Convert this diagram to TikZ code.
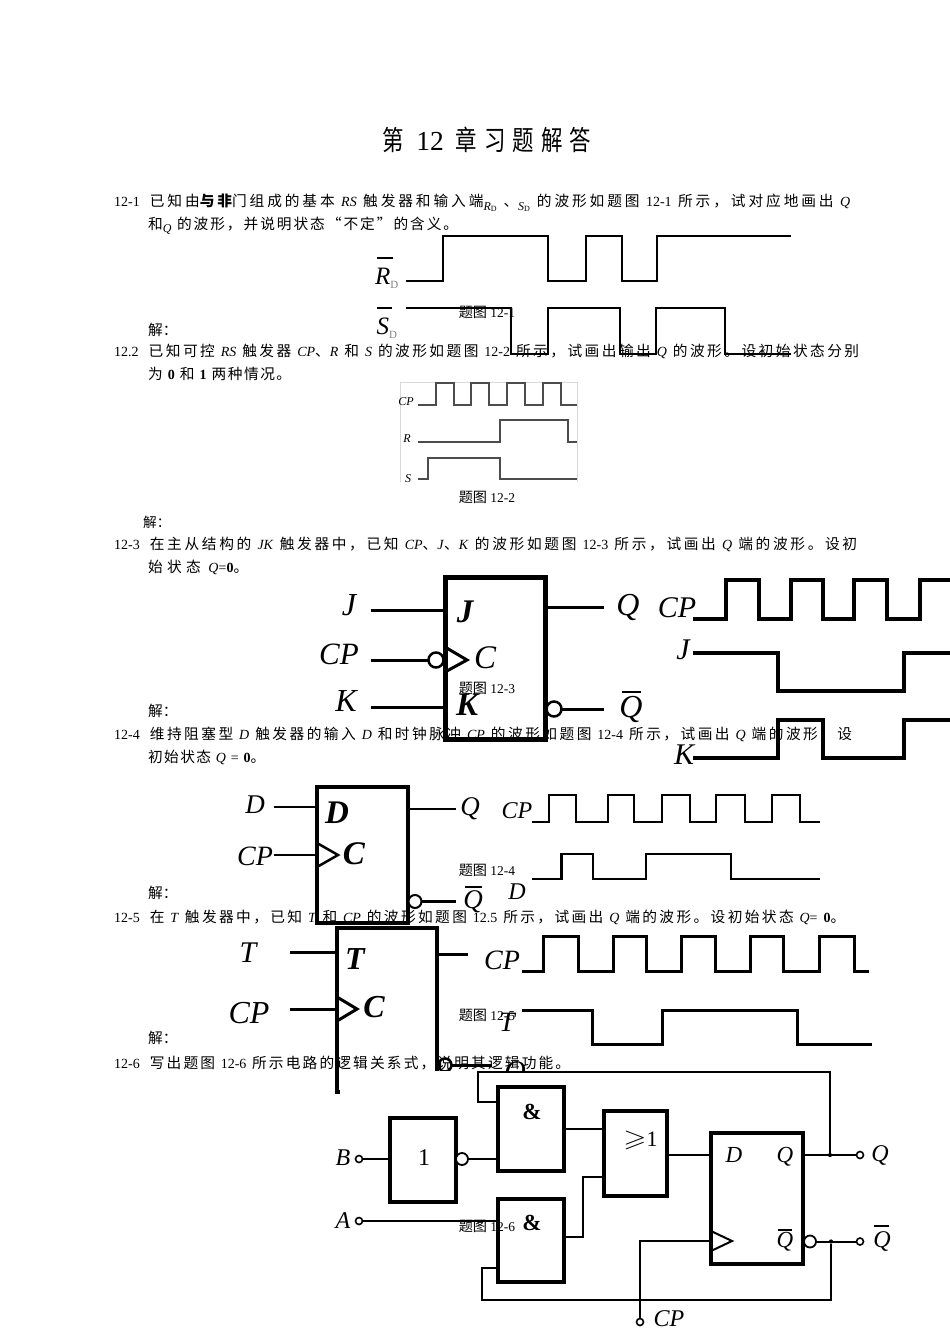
\documentclass[tikz,border=0pt]{standalone}
\usepackage{fontspec}
\usepackage{amssymb}
\usepackage{graphicx}
\setmainfont{Liberation Serif}
\newfontfamily\cjk[Scale=1.05]{Noto Sans CJK SC}
\newfontfamily\cjktitle[FakeStretch=0.78]{Noto Sans CJK SC}
\XeTeXinterchartokenstate=1
\newXeTeXintercharclass\zhclass
\count255="4E00
\loop\XeTeXcharclass\count255=\zhclass\advance\count255 by 1\ifnum\count255<"A000\repeat
\XeTeXcharclass"FF0C=\zhclass
\XeTeXcharclass"FF1A=\zhclass
\XeTeXcharclass"3001=\zhclass
\XeTeXcharclass"3002=\zhclass
\XeTeXcharclass"201C=\zhclass
\XeTeXcharclass"201D=\zhclass
\XeTeXinterchartoks\zhclass\zhclass={\hskip 0pt plus 1pt minus 0.5pt\relax}
\newcommand{\zh}[1]{{\cjk #1}}
\newcommand{\zb}[1]{{\cjk\fontseries{b}\selectfont #1}}
\newcommand{\fitline}[2]{\makebox[#1pt][s]{\spaceskip=3.5pt plus 1pt minus 1pt\relax #2}}
\newcommand{\sz}[1]{\fontsize{#1}{#1}\selectfont}
\tikzset{
  txt/.style={anchor=base west,inner sep=0pt,font=\sz{14}},
  figcap/.style={inner sep=0pt,font=\sz{13.5}},
  sig/.style={inner sep=0pt,font=\sz{#1}\itshape},
  sigb/.style={inner sep=0pt,font=\sz{#1}\bfseries\itshape},
  box/.style={draw,rectangle,inner sep=0pt,outer sep=0pt,fill=white},
  bub/.style={draw,circle,inner sep=0pt,outer sep=0pt,fill=white,minimum size=#1},
  term/.style={draw,circle,inner sep=0pt,outer sep=0pt,fill=white,minimum size=7pt,line width=1.6pt},
  wave/.style={line width=#1,line join=miter}
}
\begin{document}
\begin{tikzpicture}[x=1pt,y=-1pt]
  \useasboundingbox (0,0) rectangle (950,1344);

  \draw [wave=2.3pt] (406,281) -- (443,281) -- (443,236) -- (548,236) -- (548,281) -- (586,281) -- (586,236) -- (622,236) -- (622,281) -- (657,281) -- (657,236) -- (791,236);
  \draw [wave=2.3pt] (406,308) -- (511,308) -- (511,354) -- (548,354) -- (548,308) -- (620,308) -- (620,354) -- (656,354) -- (656,308) -- (725,308) -- (725,354) -- (791,354);
  \node (rdlabel) at (387,278)[sig=25]{R\textsubscript{\upshape\color{gray}\sz{11}D}};
  \node (sdlabel) at (387,328)[sig=25]{S\textsubscript{\upshape\color{gray}\sz{11}D}};
  \draw [line width=1.5pt] (377,258) -- (393,258);
  \draw [line width=1.5pt] (377,308) -- (392,308);

  \draw [gray!30] (577,482) -- (577,382) -- (400,382) -- (400,482);
  \draw [wave=1.6pt,black!70] (418,405) -- (436,405) -- (436,383) -- (454,383) -- (454,405) -- (471,405) -- (471,383) -- (489,383) -- (489,405) -- (507,405) -- (507,383) -- (525,383) -- (525,405) -- (543,405) -- (543,383) -- (561,383) -- (561,405) -- (577,405);
  \draw [wave=1.6pt,black!70] (418,442) -- (500,442) -- (500,420) -- (568,420) -- (568,442) -- (577,442);
  \draw [wave=1.6pt,black!70] (418,479) -- (428,479) -- (428,458) -- (500,458) -- (500,479) -- (577,479);
  \node (cplabela) at (406,402)[sig=12]{CP};
  \node (rlabela) at (407,439)[sig=12]{R};
  \node (slabela) at (408,479)[sig=12]{S};

  \node (jkbox) at (495.5,658.5)[box,line width=5pt,minimum width=100pt,minimum height=162pt]{};
  \coordinate (jin) at (371,610.5);
  \coordinate (cpin) at (371,660);
  \coordinate (kin) at (371,707);
  \coordinate (qout) at (604,607);
  \coordinate (nqout) at (604,709);
  \node (cpbub) at (436,660)[bub=15pt,line width=2.5pt]{};
  \node (nqbub) at (554,709)[bub=15pt,line width=2.5pt]{};
  \draw [line width=3pt] (jin) -- (jin -| jkbox.west);
  \draw [line width=3pt] (cpin) -- (cpbub);
  \draw [line width=3pt] (kin) -- (kin -| jkbox.west);
  \draw [line width=3pt] (qout -| jkbox.east) -- (qout);
  \draw [line width=3pt] (nqbub) -- (nqout);
  \draw [line width=3pt] (445,647) -- (467,660) -- (445,672);
  \node (jlabel) at (349,605)[sig=32]{J};
  \node (cplabelb) at (339,654)[sig=31]{CP};
  \node (klabel) at (346,701)[sig=32]{K};
  \node (qlabelb) at (628,607)[sig=32]{Q};
  \node (nqlabelb) at (631,709)[sig=32]{Q};
  \draw [line width=2.5pt] (622,692) -- (641,692);
  \node (jinner) at (465,612)[sigb=33]{J};
  \node (cinner) at (485,658)[sig=33]{C};
  \node (kinner) at (467,705)[sigb=33]{K};
  \draw [wave=4pt] (693,619) -- (726,619) -- (726,580) -- (758.5,580) -- (758.5,619) -- (791,619) -- (791,580) -- (822.5,580) -- (822.5,619) -- (854,619) -- (854,580) -- (887,580) -- (887,619) -- (919.5,619) -- (919.5,580) -- (950,580);
  \draw [wave=4pt] (693,652.5) -- (777.5,652.5) -- (777.5,691) -- (904,691) -- (904,652.5) -- (950,652.5);
  \draw [wave=4pt] (693,757.5) -- (777.5,757.5) -- (777.5,719.5) -- (822.5,719.5) -- (822.5,757.5) -- (904,757.5) -- (904,719.5) -- (950,719.5);
  \node (cpwavec) at (677,608)[sig=30]{CP};
  \node (jwave) at (683,650)[sig=30]{J};
  \node (kwave) at (684,755)[sig=30]{K};

  \node (dbox) at (362,855)[box,line width=4pt,minimum width=91pt,minimum height=136pt]{};
  \coordinate (din) at (274,807);
  \coordinate (cpind) at (274,855);
  \coordinate (qoutd) at (456,809);
  \coordinate (nqoutd) at (456,901.5);
  \node (nqbubd) at (415,901.5)[bub=13pt,line width=2pt]{};
  \draw [line width=2.5pt] (din) -- (din -| dbox.west);
  \draw [line width=2.5pt] (cpind) -- (cpind -| dbox.west);
  \draw [line width=2.5pt] (qoutd -| dbox.east) -- (qoutd);
  \draw [line width=2.5pt] (nqbubd) -- (nqoutd);
  \draw [line width=2.5pt] (317,843) -- (338,855) -- (317,867);
  \node (dlabel) at (255,805)[sig=27]{D};
  \node (cplabeld) at (255,856)[sig=28]{CP};
  \node (qlabeld) at (470,809)[sig=27]{Q};
  \node (nqlabeld) at (473,902)[sig=27]{Q};
  \draw [line width=2.2pt] (465,887) -- (482,887);
  \node (dinner) at (337,813)[sigb=33]{D};
  \node (cinnerd) at (354,854)[sigb=33]{C};
  \draw [wave=2.5pt] (532,822) -- (549,822) -- (549,795) -- (576,795) -- (576,822) -- (608,822) -- (608,795) -- (634,795) -- (634,822) -- (662,822) -- (662,795) -- (690,795) -- (690,822) -- (716,822) -- (716,795) -- (745,795) -- (745,822) -- (772,822) -- (772,795) -- (800,795) -- (800,822) -- (820,822);
  \draw [wave=2.5pt] (532,879) -- (561.5,879) -- (561.5,854) -- (593,854) -- (593,879) -- (646,879) -- (646,854) -- (731,854) -- (731,879) -- (820,879);
  \node (cpwaved) at (517,811)[sig=24]{CP};
  \node (dwave) at (517,892)[sig=24]{D};

  \node (tbox) at (387,1010)[box,line width=4pt,minimum width=100pt,minimum height=164pt]{};
  \coordinate (tin) at (290,952);
  \coordinate (cpint) at (290,1009);
  \coordinate (qoutt) at (468,954);
  \coordinate (nqoutt) at (492,1065);
  \node (nqbubt) at (445,1065)[bub=13pt,line width=2.5pt]{};
  \draw [line width=3pt] (tin) -- (tin -| tbox.west);
  \draw [line width=3pt] (cpint) -- (cpint -| tbox.west);
  \draw [line width=3pt] (qoutt -| tbox.east) -- (qoutt);
  \draw [line width=3pt] (nqbubt) -- (nqoutt);
  \draw [line width=3pt] (337,997) -- (357,1009) -- (337,1021);
  \node (tlabel) at (248,953)[sig=30]{T};
  \node (cplabelt) at (249,1013)[sig=32]{CP};
  \node (nqlabelt) at (515,1074)[sig=30]{Q};
  \node (tinner) at (355,959)[sigb=32]{T};
  \node (cinnert) at (374,1007)[sigb=32]{C};
  \draw [wave=3pt] (522,971) -- (543.5,971) -- (543.5,936) -- (578,936) -- (578,971) -- (613,971) -- (613,936) -- (646,936) -- (646,971) -- (681,971) -- (681,936) -- (715,936) -- (715,971) -- (750,971) -- (750,936) -- (783.5,936) -- (783.5,971) -- (819.5,971) -- (819.5,936) -- (854,936) -- (854,971) -- (869,971);
  \draw [wave=3pt] (522,1010) -- (592,1010) -- (592,1044) -- (662.5,1044) -- (662.5,1010) -- (797.5,1010) -- (797.5,1044) -- (872,1044);
  \node (cpwavet) at (502,960)[sig=28]{CP};
  \node (twave) at (507,1022)[sig=28]{T};

  \fill [white] (340,1071) rectangle (950,1344);
  \draw [line width=4pt] (337,1060) -- (337,1093);

  \node (notgate) at (423,1160)[box,line width=3.5pt,minimum width=66pt,minimum height=84pt]{};
  \node (andtop) at (531,1129)[box,line width=3.5pt,minimum width=66pt,minimum height=84pt]{};
  \node (andbot) at (531,1240.5)[box,line width=3.5pt,minimum width=66pt,minimum height=83pt]{};
  \node (orgate) at (635.5,1153.5)[box,line width=3.5pt,minimum width=63pt,minimum height=85pt]{};
  \node (dff) at (757,1198.5)[box,line width=3.5pt,minimum width=92pt,minimum height=131pt]{};
  \node (bterm) at (359,1159)[term]{};
  \node (aterm) at (359,1221)[term]{};
  \node (qterm) at (860,1155)[term]{};
  \node (nqterm) at (860,1241.5)[term]{};
  \node (cpterm) at (640,1322)[term]{};
  \node (notbub) at (462,1159)[bub=12pt,line width=1.8pt]{};
  \node (nqbubf) at (810,1241.5)[bub=12pt,line width=1.8pt]{};
  \node (qdot) at (830,1155)[circle,fill,inner sep=1.5pt]{};
  \node (nqdot) at (831,1241.5)[circle,fill,inner sep=1.5pt]{};
  \coordinate (andtopin) at (498,1102);
  \coordinate (andtopout) at (498,1129);
  \coordinate (andbotout) at (564,1237);
  \coordinate (andbotin) at (498,1268);
  \coordinate (orlow) at (604,1177);
  \coordinate (clkin) at (640,1241);
  \draw [line width=2pt] (bterm) -- (notgate.west |- bterm);
  \draw [line width=2pt] (notbub) -- (andtop.west |- notbub);
  \draw [line width=2pt] (aterm) -- (andbot.west |- aterm);
  \draw [line width=2pt] (andtopin -| andtop.west) -- (478,1102) -- (478,1072) -- (830,1072) -- (qdot);
  \draw [line width=2pt] (andtop.east |- andtopout) -- (orgate.west |- andtopout);
  \draw [line width=2pt] (andbotout) -- (583,1237) -- (583,1177) -- (orlow);
  \draw [line width=2pt] (orgate.east |- qdot) -- (dff.west |- qdot);
  \draw [line width=2pt] (dff.east |- qdot) -- (qterm);
  \draw [line width=2pt] (nqbubf) -- (nqterm);
  \draw [line width=2pt] (andbotin -| andbot.west) -- (482,1268) -- (482,1300) -- (831,1300) -- (nqdot);
  \draw [line width=2pt] (cpterm) -- (clkin) -- (clkin -| dff.west);
  \draw [line width=2pt] (711,1231) -- (732,1241) -- (711,1251);
  \node (blabel) at (343,1158)[sig=24]{B};
  \node (alabel) at (343,1221)[sig=24]{A};
  \node (qlabelf) at (880,1155)[sig=24]{Q};
  \node (nqlabelf) at (882,1241)[sig=24]{Q};
  \draw [line width=1.5pt] (874,1226) -- (889,1226);
  \node (cplabelf) at (669,1319)[sig=24]{CP};
  \node (onetext) at (424,1158)[inner sep=0pt,font=\sz{24}]{1};
  \node (andtexta) at (532,1112)[inner sep=0pt,font=\sz{23}\bfseries]{\&};
  \node (andtextb) at (532,1223)[inner sep=0pt,font=\sz{23}\bfseries]{\&};
  \node (ortext) at (640.5,1140)[inner sep=0pt,font=\sz{22}]{\scalebox{1.35}[1.1]{$\geqslant$}1};
  \node (dtext) at (734,1155)[sig=23]{D};
  \node (qtext) at (785,1157)[sig=23]{Q};
  \node (nqtext) at (785,1242)[sig=23]{Q};
  \draw [line width=1.5pt] (778,1230) -- (792,1230);

  \node (title) at (487,140)[inner sep=0pt,font=\sz{27.5}]{{\cjktitle 第}\hspace{12pt}12\hspace{12pt}{\cjktitle 章}\hspace{7pt}{\cjktitle 习}\hspace{7pt}{\cjktitle 题}\hspace{7pt}{\cjktitle 解}\hspace{7pt}{\cjktitle 答}};

  \node (linea) at (114,206)[txt]{\fitline{736}{12-1\hspace*{10pt}\zh{已知由}\zb{与非}\zh{门组成的基本} \textit{RS} \zh{触发器和输入端}\raisebox{-4pt}{\sz{12}\textit{R}\textsubscript{\sz{8}D}}\ \zh{、}\raisebox{-4pt}{\sz{12}\textit{S}\textsubscript{\sz{8}D}}\ \zh{的波形如题图} 12-1 \zh{所示，试对应地画出} \textit{Q}}};
  \node (lineb) at (148,229)[txt]{\fitline{310}{\zh{和}\raisebox{-3pt}{\sz{12}\textit{Q}}\ \zh{的波形，并说明状态“不定”的含义。}}};
  \node (cap1) at (487,312)[figcap]{\zh{题图} 12-1};
  \node (sol1) at (148,335)[txt]{\zh{解：}};
  \node (linec) at (114,356)[txt]{\fitline{745}{12.2\hspace*{10pt}\zh{已知可控} \textit{RS} \zh{触发器} \textit{CP}\zh{、}\textit{R} \zh{和} \textit{S} \zh{的波形如题图} 12-2 \zh{所示，试画出输出} \textit{Q} \zh{的波形。设初始状态分别}}};
  \node (lined) at (148,379)[txt]{\fitline{143}{\zh{为} \textbf{0} \zh{和} \textbf{1} \zh{两种情况。}}};
  \node (cap2) at (487,497)[figcap]{\zh{题图} 12-2};
  \node (sol2) at (143,527)[txt,font=\sz{13}]{\zh{解：}};
  \node (linee) at (114,549)[txt]{\fitline{743}{12-3\hspace*{10pt}\zh{在主从结构的} \textit{JK} \zh{触发器中，已知} \textit{CP}\zh{、}\textit{J}\zh{、}\textit{K} \zh{的波形如题图} 12-3 \zh{所示，试画出} \textit{Q} \zh{端的波形。设初}}};
  \node (linef) at (148,572)[txt]{\fitline{100}{\zh{始状态} \textit{Q}=\textbf{0}\zh{。}}};
  \node (cap3) at (487,688)[figcap]{\zh{题图} 12-3};
  \node (sol3) at (148,716)[txt]{\zh{解：}};
  \node (lineg) at (114,739)[txt]{\fitline{738}{12-4\hspace*{10pt}\zh{维持阻塞型} \textit{D} \zh{触发器的输入} \textit{D} \zh{和时钟脉冲} \textit{CP} \zh{的波形如题图} 12-4 \zh{所示，试画出} \textit{Q} \zh{端的波形，设}}};
  \node (lineh) at (148,762)[txt]{\fitline{117}{\zh{初始状态} \textit{Q} = \textbf{0}\zh{。}}};
  \node (cap4) at (487,870)[figcap]{\zh{题图} 12-4};
  \node (sol4) at (148,898)[txt]{\zh{解：}};
  \node (linei) at (114,922)[txt]{\fitline{731}{12-5\hspace*{10pt}\zh{在} \textit{T} \zh{触发器中，已知} \textit{T} \zh{和} \textit{CP} \zh{的波形如题图} 12.5 \zh{所示，试画出} \textit{Q} \zh{端的波形。设初始状态} \textit{Q}= \textbf{0}\zh{。}}};
  \node (cap5) at (487,1015)[figcap]{\zh{题图} 12-5};
  \node (sol5) at (148,1043)[txt]{\zh{解：}};
  \node (linej) at (114,1068)[txt]{\fitline{456}{12-6\hspace*{10pt}\zh{写出题图} 12-6 \zh{所示电路的逻辑关系式，说明其逻辑功能。}}};
  \node (cap6) at (487,1226)[figcap]{\zh{题图} 12-6};
\end{tikzpicture}
\end{document}
